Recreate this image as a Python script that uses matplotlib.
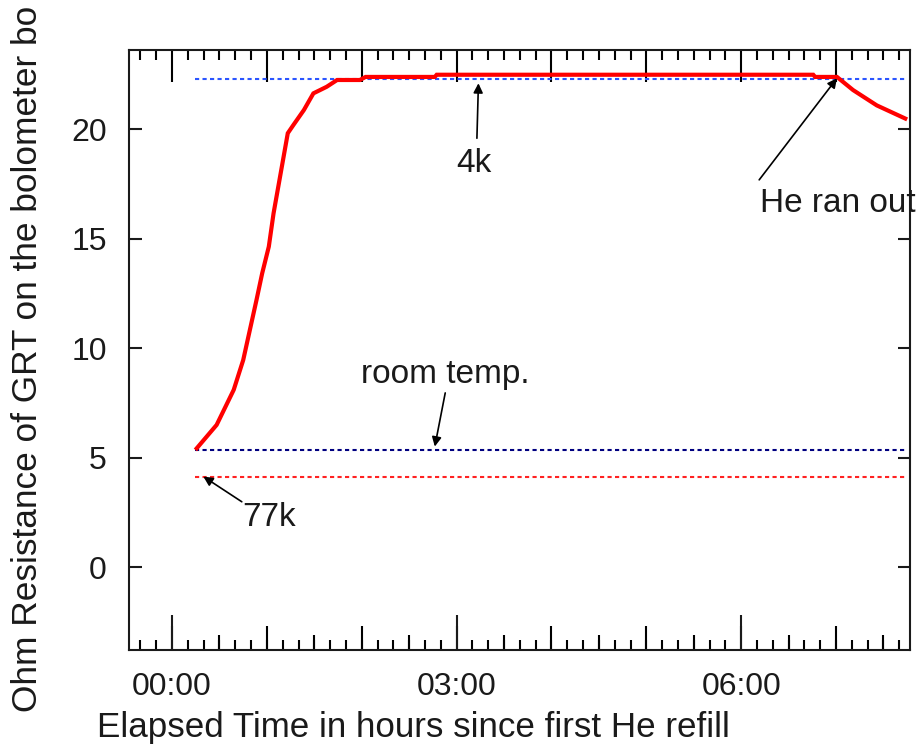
import numpy as np
import matplotlib
matplotlib.use('Agg')
import matplotlib.pyplot as plt
from matplotlib.ticker import MultipleLocator, FuncFormatter

plt.rcParams['font.family'] = ['Liberation Sans', 'DejaVu Sans']

# GRT resistance trace (hours since first refill, ohms)
hours = [0.26, 0.47, 0.65, 0.75, 0.82, 0.89, 0.95, 1.02, 1.07, 1.12, 1.17, 1.22,
         1.28, 1.39, 1.49, 1.63, 1.74, 1.98, 2.04, 2.77, 2.79, 6.76, 6.78, 7.01,
         7.18, 7.43, 7.73]
ohms = [5.44, 6.51, 8.11, 9.47, 10.84, 12.21, 13.43, 14.65, 16.17, 17.39, 18.61, 19.83,
        20.21, 20.89, 21.65, 21.95, 22.26, 22.26, 22.4, 22.4, 22.5, 22.5, 22.4, 22.4,
        21.8, 21.1, 20.5]

# reference levels
ref_start, ref_end = 0.24, 7.75
level_4k = 22.29
level_room = 5.37
level_77k = 4.15

# annotations: label, text position, arrow tail, arrow tip
notes = [
    ('4k', (3.18, 18.46), (3.214, 19.6), (3.23, 22.11)),
    ('He ran out', (6.20, 16.64), (6.19, 17.7), (7.01, 22.34)),
    ('room temp.', (2.88, 8.79), (2.88, 7.97), (2.77, 5.52)),
    ('77k', (1.02, 2.26), (0.735, 3.0), (0.33, 4.15)),
]

fig = plt.figure(figsize=(9.2, 7.54), dpi=100)
ax = fig.add_axes([129/920, 1 - 650/754, 781/920, 600/754])

dash = (2, 1.6)
ax.plot([ref_start, ref_end], [level_4k] * 2, color='#2b55ff', lw=1.5, dashes=dash)
ax.plot([ref_start, ref_end], [level_room] * 2, color='#000080', lw=1.5, dashes=dash)
ax.plot([ref_start, ref_end], [level_77k] * 2, color='#ff2222', lw=1.5, dashes=dash)
ax.plot(hours, ohms, color='#ff0000', lw=3, solid_joinstyle='miter')

for label, txt, tail, tip in notes:
    ha = 'left' if label == 'He ran out' else 'center'
    ax.text(txt[0], txt[1], label, ha=ha, va='center', fontsize=24, color='#1a1a1a')
    ax.annotate('', xy=tip, xytext=tail,
                arrowprops=dict(arrowstyle='-|>', color='black', lw=1.2,
                                mutation_scale=14, shrinkA=0, shrinkB=0))

ax.set_xlim(-0.454, 7.78)
ax.set_ylim(-3.77, 23.63)

ax.xaxis.set_major_locator(MultipleLocator(3))
ax.xaxis.set_minor_locator(MultipleLocator(1 / 6))
ax.xaxis.set_major_formatter(FuncFormatter(lambda v, p: '%02d:00' % int(round(v))))
ax.yaxis.set_major_locator(MultipleLocator(5))
ax.tick_params(axis='x', which='major', direction='in', length=25, width=1.5,
               labelsize=23, pad=16, top=False, colors='#1a1a1a')
ax.tick_params(axis='x', which='minor', direction='in', length=7, width=1.5, top=False)
ax.tick_params(axis='y', which='major', direction='in', length=9, width=1.5,
               labelsize=23, pad=16, right=True, colors='#1a1a1a')

# extra tick levels: hours and half hours on the bottom, hours on top
bot = ax.secondary_xaxis('bottom')
bot.xaxis.set_major_locator(MultipleLocator(1))
bot.xaxis.set_minor_locator(MultipleLocator(0.5))
bot.tick_params(which='major', direction='in', length=17, width=1.5, labelbottom=False)
bot.tick_params(which='minor', direction='in', length=11, width=1.5)
bot.spines['bottom'].set_visible(False)

top = ax.secondary_xaxis('top')
top.xaxis.set_major_locator(MultipleLocator(1))
top.xaxis.set_minor_locator(MultipleLocator(1 / 6))
top.tick_params(which='major', direction='in', length=23, width=1.5, labeltop=False)
top.tick_params(which='minor', direction='in', length=7, width=1.5)
top.spines['top'].set_visible(False)

for s in ax.spines.values():
    s.set_linewidth(1.5)
    s.set_color('#1a1a1a')

fig.text(413/920, 1 - 727/754, 'Elapsed Time in hours since first He refill',
         ha='center', va='center', fontsize=25.2, color='#1a1a1a')
fig.text(28/920, 1 - 712/754, 'Ohm Resistance of GRT on the bolometer bo',
         rotation=90, ha='center', va='bottom', fontsize=25.4, color='#1a1a1a')

fig.savefig('out.png', dpi=100)
